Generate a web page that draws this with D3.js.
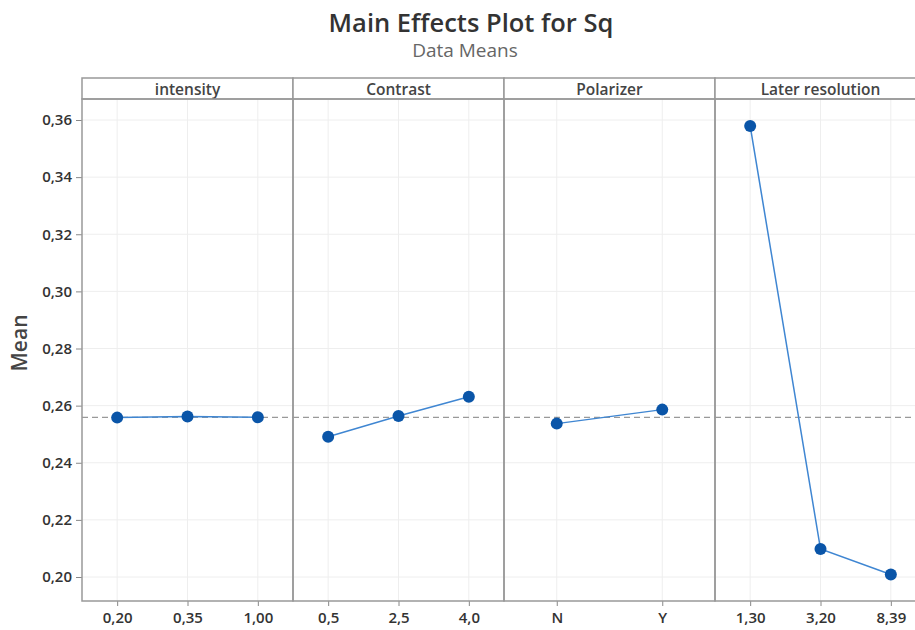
<!DOCTYPE html>
<html><head><meta charset="utf-8">
<script src="https://cdn.jsdelivr.net/npm/d3@7/dist/d3.min.js"></script>
<style>body{margin:0;background:#fff;} svg{display:block;font-family:"Open Sans","Noto Sans",sans-serif;}</style>
</head><body>
<svg id="c" width="915" height="630"></svg>
<script>
const factors = ["intensity", "Contrast", "Polarizer", "Later resolution"];
const levels = [
  ["0,20", "0,35", "1,00"],
  ["0,5", "2,5", "4,0"],
  ["N", "Y"],
  ["1,30", "3,20", "8,39"]
];
const means = [
  [0.2558, 0.2562, 0.2559],
  [0.2491, 0.2564, 0.2631],
  [0.2537, 0.2586],
  [0.3579, 0.2098, 0.2009]
];
const grandMean = 0.2559;
const yTicks = [0.20, 0.22, 0.24, 0.26, 0.28, 0.30, 0.32, 0.34, 0.36];

const svg = d3.select("#c");
const left = 82, panelW = 211, stripTop = 78, stripBot = 99, bottom = 601;
const y = d3.scaleLinear().domain([0.20, 0.36]).range([577, 120]);
const fmt = d => d3.format(".2f")(d).replace(".", ",");

// Title
svg.append("text").attr("x", 471).attr("y", 32).attr("text-anchor", "middle")
  .attr("font-size", 25.5).attr("font-weight", 600).attr("fill", "#333").text("Main Effects Plot for Sq");
svg.append("text").attr("x", 465).attr("y", 57).attr("text-anchor", "middle")
  .attr("font-size", 19).attr("fill", "#666").text("Data Means");

// Y label
svg.append("text").attr("transform", "translate(27,343) rotate(-90)").attr("text-anchor", "middle")
  .attr("font-size", 21).attr("font-weight", 600).attr("fill", "#444").text("Mean");

const totalW = panelW * factors.length;

// Horizontal gridlines
svg.append("g").selectAll("line").data(yTicks).join("line")
  .attr("x1", left).attr("x2", left + totalW).attr("y1", d => y(d)).attr("y2", d => y(d))
  .attr("stroke", "#eeeeee").attr("stroke-width", 1);

// Y axis
const yAxis = svg.append("g").attr("transform", `translate(${left},0)`)
  .call(d3.axisLeft(y).tickValues(yTicks).tickFormat(fmt).tickSize(6).tickSizeOuter(0));
yAxis.select(".domain").remove();
yAxis.selectAll(".tick line").attr("stroke", "#888");
yAxis.selectAll(".tick text").attr("font-size", 15).attr("font-weight", 600).attr("fill", "#333")
  .attr("font-family", "'Open Sans','Noto Sans',sans-serif").attr("dx", -1);

factors.forEach((f, i) => {
  const x0 = left + i * panelW;
  const g = svg.append("g").attr("transform", `translate(${x0},0)`);
  const x = d3.scalePoint().domain(levels[i]).range([0, panelW]).padding(0.5);

  // vertical gridlines
  g.selectAll("line.vg").data(levels[i]).join("line").attr("class", "vg")
    .attr("x1", d => x(d)).attr("x2", d => x(d)).attr("y1", stripBot).attr("y2", bottom)
    .attr("stroke", "#eeeeee");

  // x axis
  const xa = g.append("g").attr("transform", `translate(0,${bottom})`)
    .call(d3.axisBottom(x).tickSize(5).tickSizeOuter(0));
  xa.select(".domain").remove();
  xa.selectAll(".tick line").attr("stroke", "#888");
  xa.selectAll(".tick text").attr("font-size", 15).attr("font-weight", 600).attr("fill", "#333")
    .attr("font-family", "'Open Sans','Noto Sans',sans-serif").attr("dy", "0.95em");

  // mean reference
  g.append("line").attr("x1", 0).attr("x2", panelW).attr("y1", y(grandMean)).attr("y2", y(grandMean))
    .attr("stroke", "#999").attr("stroke-width", 1.2).attr("stroke-dasharray", "6,4");

  const pts = levels[i].map((l, j) => [x(l), y(means[i][j])]);
  g.append("path").attr("d", d3.line()(pts)).attr("fill", "none")
    .attr("stroke", "#3f86d2").attr("stroke-width", 1.5);
  g.selectAll("circle").data(pts).join("circle")
    .attr("cx", d => d[0]).attr("cy", d => d[1]).attr("r", 6).attr("fill", "#0a55a8");

  // strip
  g.append("rect").attr("x", 0).attr("y", stripTop).attr("width", panelW).attr("height", stripBot - stripTop)
    .attr("fill", "#fff").attr("stroke", "#999").attr("stroke-width", 1.5);
  g.append("text").attr("x", panelW / 2).attr("y", stripTop + 16.5).attr("text-anchor", "middle")
    .attr("font-size", 15.5).attr("font-weight", 600).attr("fill", "#444").text(f);
  // panel border
  g.append("rect").attr("x", 0).attr("y", stripBot).attr("width", panelW).attr("height", bottom - stripBot)
    .attr("fill", "none").attr("stroke", "#999").attr("stroke-width", 1.5);
});
</script>
</body></html>
